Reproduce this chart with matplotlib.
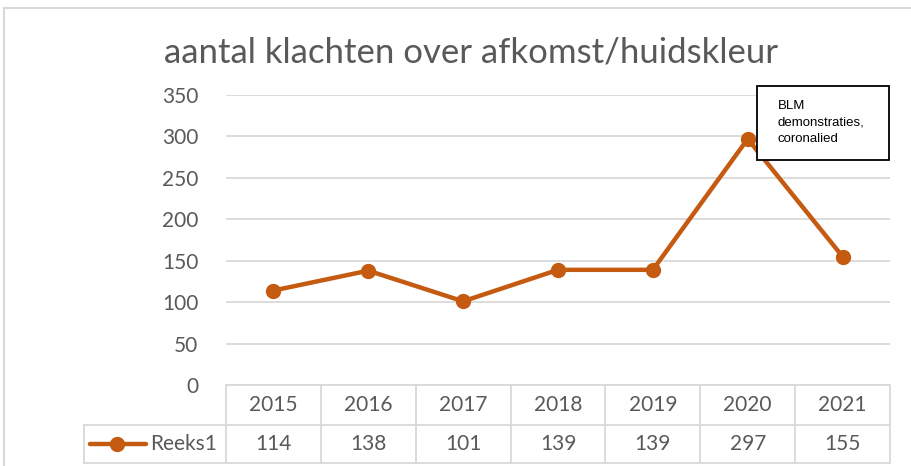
import matplotlib.pyplot as plt
from matplotlib.lines import Line2D
from matplotlib.patches import Rectangle

jaren = ['2015', '2016', '2017', '2018', '2019', '2020', '2021']
klachten = [114, 138, 101, 139, 139, 297, 155]
reeks_naam = 'Reeks1'
titel = 'aantal klachten over afkomst/huidskleur'
notitie = 'BLM\ndemonstraties,\ncoronalied'

oranje = '#C55A11'
grijs = '#D9D9D9'
tekst = '#595959'
fs = 15

W, H = 912, 466
fig = plt.figure(figsize=(W / 100, H / 100), dpi=100)
fig.patch.set_facecolor('white')

# plotgebied in pixels
links, rechts, boven, onder = 226, 890, 95, 385
ax = fig.add_axes([links / W, (H - onder) / H, (rechts - links) / W, (onder - boven) / H])

x = list(range(len(jaren)))
ax.plot(x, klachten, color=oranje, lw=3.2, marker='o', ms=10, zorder=3)
ax.set_xlim(-0.5, len(jaren) - 0.5)
ax.set_ylim(0, 350)
ax.set_yticks(range(0, 351, 50))
ax.set_xticks([])
ax.tick_params(axis='y', length=0, pad=20, labelsize=fs, labelcolor=tekst)
for lab in ax.get_yticklabels():
    lab.set_fontfamily('Lato')
ax.grid(axis='y', color=grijs, lw=1.3)
ax.set_axisbelow(True)
for s in ax.spines.values():
    s.set_visible(False)

fig.text(471 / W, 1 - 52 / H, titel, ha='center', va='center', fontsize=25,
         color=tekst, family='Lato')

# datatabel onder de as
ph = onder - boven
def ay(p):
    return (onder - p) / ph

tr = ax.get_xaxis_transform()
ta = ax.transAxes
y0, y1, y2 = 0, ay(425), ay(463)
xl = (84 - links) / (rechts - links)
kw = dict(color=grijs, lw=1.3, clip_on=False)
ax.plot([-0.5, len(jaren) - 0.5], [y0, y0], transform=tr, **kw)
ax.plot([xl, 1], [y1, y1], transform=ta, **kw)
ax.plot([xl, 1], [y2, y2], transform=ta, **kw)
ax.plot([xl, xl], [y1, y2], transform=ta, **kw)
for i in range(len(jaren) + 1):
    ax.plot([i - 0.5, i - 0.5], [y0, y2], transform=tr, **kw)
for i, (j, v) in enumerate(zip(jaren, klachten)):
    ax.text(i, (y0 + y1) / 2, j, transform=tr, ha='center', va='center',
            fontsize=fs, color=tekst, family='Lato')
    ax.text(i, (y1 + y2) / 2, str(v), transform=tr, ha='center', va='center',
            fontsize=fs, color=tekst, family='Lato')

# legendasleutel in tabel
lx0, lx1, lxm = [(p - links) / (rechts - links) for p in (90, 146, 117)]
ym = (y1 + y2) / 2
ax.plot([lx0, lx1], [ym, ym], transform=ta, color=oranje, lw=3.2, clip_on=False,
        solid_capstyle='round')
ax.plot([lxm], [ym], transform=ta, color=oranje, marker='o', ms=10, clip_on=False)
ax.text((150 - links) / (rechts - links), ym, reeks_naam, transform=ta, ha='left',
        va='center', fontsize=fs, color=tekst, family='Lato')

# notitie
bx0, bx1 = [(p - links) / (rechts - links) for p in (757, 889)]
by0, by1 = ay(160), ay(86)
ax.add_patch(Rectangle((bx0, by0), bx1 - bx0, by1 - by0, transform=ta, fc='white',
                       ec='black', lw=1.3, clip_on=False, zorder=5))
ax.text((778 - links) / (rechts - links), ay(100), notitie, transform=ta, ha='left',
        va='top', fontsize=9.5, color='black', family='Liberation Sans',
        linespacing=1.5, zorder=6)

# kaderrand
fig.add_artist(Line2D([4 / W, 4 / W], [0, 1 - 8 / H], color=grijs, lw=1.5))
fig.add_artist(Line2D([4 / W, 1], [1 - 8 / H, 1 - 8 / H], color=grijs, lw=1.5))

fig.savefig('out.png', dpi=100)
